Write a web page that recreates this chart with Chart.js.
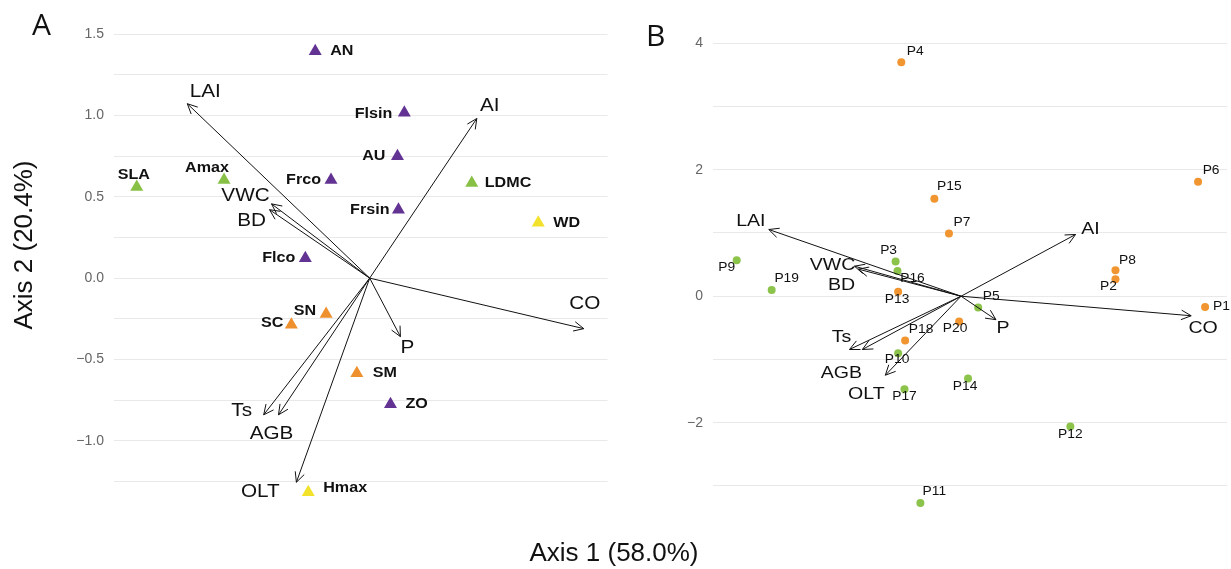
<!DOCTYPE html>
<html>
<head>
<meta charset="utf-8">
<script src="https://cdn.jsdelivr.net/npm/chart.js@4"></script>
<style>
  body { margin: 0; background: #fff; width: 1231px; height: 569px; position: relative; overflow: hidden;
         font-family: "Liberation Sans", Arial, sans-serif; }
  .panel { position: absolute; top: 0; height: 569px; }
  #wrapA { left: 0; width: 615px; }
  #wrapB { left: 615px; width: 616px; }
  .txt { position: absolute; color: #111; white-space: nowrap; line-height: 1; }
</style>
</head>
<body>
<div class="panel" id="wrapA"><canvas id="chartA"></canvas></div>
<div class="panel" id="wrapB"><canvas id="chartB"></canvas></div>
<div class="txt" style="left:32px;top:9px;font-size:30px;font-family:'Open Sans',sans-serif;">A</div>
<div class="txt" style="left:646px;top:20px;font-size:30px;font-family:'Open Sans',sans-serif;">B</div>
<div class="txt" style="left:23px;top:245px;font-size:26px;transform:translate(-50%,-50%) rotate(-90deg);">Axis 2 (20.4%)</div>
<div class="txt" style="left:614px;top:552px;font-size:26px;transform:translate(-50%,-50%);">Axis 1 (58.0%)</div>
<script>
// panel A: traits (triangles)
const traitNames = ['AN', 'Flsin', 'AU', 'Frco', 'Frsin', 'LDMC', 'WD', 'SLA', 'Amax', 'Flco', 'SC', 'SN', 'SM', 'ZO', 'Hmax'];
const traitX = [-0.335, 0.213, 0.171, -0.238, 0.177, 0.628, 1.037, -1.433, -0.896, -0.396, -0.482, -0.268, -0.079, 0.128, -0.378];
const traitY = [1.396, 1.018, 0.750, 0.604, 0.420, 0.585, 0.341, 0.561, 0.604, 0.122, -0.287, -0.220, -0.585, -0.776, -1.317];
const traitGroup = [1, 1, 1, 1, 1, 2, 4, 2, 2, 1, 3, 3, 3, 1, 4];

// environmental vectors
const envNames = ['LAI', 'AI', 'VWC', 'BD', 'CO', 'P', 'Ts', 'AGB', 'OLT'];
const envAX = [-1.122, 0.659, -0.604, -0.616, 1.317, 0.189, -0.652, -0.561, -0.451];
const envAY = [1.073, 0.982, 0.457, 0.421, -0.311, -0.360, -0.841, -0.841, -1.256];
const envBX = [-3.025, 1.802, -1.677, -1.614, 3.621, 0.549, -1.755, -1.552, -1.191];
const envBY = [1.055, 0.976, 0.475, 0.428, -0.309, -0.371, -0.842, -0.842, -1.249];

// panel B: plots
const plotNames = ['P1', 'P2', 'P3', 'P4', 'P5', 'P6', 'P7', 'P8', 'P9', 'P10',
                   'P11', 'P12', 'P13', 'P14', 'P15', 'P16', 'P17', 'P18', 'P19', 'P20'];
const plotX = [3.84, 2.43, -1.03, -0.94, 0.27, 3.73, -0.19, 2.43, -3.53, -0.99,
               -0.64, 1.72, -0.99, 0.11, -0.42, -1.00, -0.89, -0.88, -2.98, -0.03];
const plotY = [-0.17, 0.27, 0.55, 3.70, -0.18, 1.81, 0.99, 0.41, 0.57, -0.90,
               -3.27, -2.06, 0.07, -1.30, 1.54, 0.40, -1.47, -0.70, 0.10, -0.40];
const plotGroup = [1, 1, 2, 1, 2, 1, 1, 1, 2, 2, 2, 2, 1, 2, 1, 2, 2, 1, 2, 1];

// tick labels
const ticksA = ['\u22121.0', '\u22120.5', '0.0', '0.5', '1.0', '1.5'];
const ticksB = ['\u22122', '0', '2', '4'];

const FONT = '"Liberation Sans", Arial, sans-serif';
Chart.defaults.font.family = FONT;

const traitColors = { 1: '#633394', 2: '#88c046', 3: '#ef902e', 4: '#f3e22b' };
const plotColors = { 1: '#f0952f', 2: '#8cc34a' };

// label placement: [dx, dy, align]
const traitLabelPos = {
  AN: [15, 0, 'left'], Flsin: [-12, 1, 'right'], AU: [-12, 0, 'right'], Frco: [-10, 0, 'right'],
  Frsin: [-9, 0, 'right'], LDMC: [13, 0, 'left'], WD: [15, 0, 'left'], SLA: [-3, -12, 'center'],
  Amax: [-17, -12, 'center'], Flco: [-10, 0, 'right'], SC: [-8, -2, 'right'], SN: [-10, -3, 'right'],
  SM: [16, 0, 'left'], ZO: [15, 0, 'left'], Hmax: [15, -4, 'left']
};
const envLabelPosA = {
  LAI: [18, -12], AI: [13, -12], VWC: [-26, -8], BD: [-18, 11], CO: [1, -25],
  P: [7, 11], Ts: [-22, -4], AGB: [-7, 19], OLT: [-36, 10]
};
const envLabelPosB = {
  LAI: [-18, -8], AI: [15, -5], VWC: [-22, -1], BD: [-17, 16], CO: [12, 13],
  P: [7, 9], Ts: [-8, -12], AGB: [-21, 24], OLT: [-19, 19]
};
const plotLabelPos = {
  P1: [8, 0, 'left'], P2: [-7, 8], P3: [-7, -11], P4: [14, -11], P5: [13, -11], P6: [13, -11],
  P7: [13, -11], P8: [12, -10], P9: [-10, 8], P10: [-1, 7], P11: [14, -11], P12: [0, 8],
  P13: [-1, 8], P14: [-3, 8], P15: [15, -12], P16: [15, 8], P17: [0, 8], P18: [16, -11],
  P19: [15, -11], P20: [-4, 7]
};

function arrowDatasets(xs, ys) {
  return envNames.map((n, i) => ({
    label: n,
    data: [{ x: 0, y: 0 }, { x: xs[i], y: ys[i] }],
    showLine: true,
    borderColor: '#111',
    borderWidth: 1,
    pointRadius: 0,
    order: 0,
    isArrow: true
  }));
}

// text slightly wider than tall, as in the source figure
function wideText(ctx, s, x, y, sx) {
  ctx.save();
  ctx.translate(x, y);
  ctx.scale(sx, 1);
  ctx.fillText(s, 0, 0);
  ctx.restore();
}

// arrowheads + text labels
function biplotPlugin(envPos, envFont, pointNames, pointPos, pointFont) {
  return {
    id: 'biplot',
    afterDatasetsDraw(chart) {
      const ctx = chart.ctx;
      const xs = chart.scales.x, ys = chart.scales.y;
      ctx.save();
      ctx.textBaseline = 'middle';
      chart.data.datasets.forEach(ds => {
        if (!ds.isArrow) return;
        const o = ds.data[0], t = ds.data[1];
        const ox = xs.getPixelForValue(o.x), oy = ys.getPixelForValue(o.y);
        const tx = xs.getPixelForValue(t.x), ty = ys.getPixelForValue(t.y);
        const ang = Math.atan2(ty - oy, tx - ox);
        const len = 11, spread = Math.PI / 7;
        ctx.strokeStyle = '#111';
        ctx.lineWidth = 1;
        ctx.beginPath();
        ctx.moveTo(tx - len * Math.cos(ang - spread), ty - len * Math.sin(ang - spread));
        ctx.lineTo(tx, ty);
        ctx.lineTo(tx - len * Math.cos(ang + spread), ty - len * Math.sin(ang + spread));
        ctx.stroke();
        const p = envPos[ds.label];
        ctx.fillStyle = '#111';
        ctx.font = envFont;
        ctx.textAlign = 'center';
        wideText(ctx, ds.label, tx + p[0], ty + p[1], 1.15);
      });
      const pts = chart.data.datasets.find(d => d.isPoints);
      ctx.font = pointFont;
      ctx.fillStyle = '#111';
      pts.data.forEach((d, i) => {
        const name = pointNames[i];
        const p = pointPos[name];
        const px = xs.getPixelForValue(d.x), py = ys.getPixelForValue(d.y);
        ctx.textAlign = p[2] || 'center';
        wideText(ctx, name, px + p[0], py + p[1], 1.15);
      });
      ctx.restore();
    }
  };
}

function makeOptions(cfg) {
  return {
    responsive: true,
    maintainAspectRatio: false,
    animation: false,
    layout: { padding: { left: 0, right: cfg.padRight, top: 14, bottom: 57 } },
    plugins: { legend: { display: false }, tooltip: { enabled: false } },
    scales: {
      x: { type: 'linear', min: cfg.xMin, max: cfg.xMax, display: false },
      y: {
        type: 'linear', min: cfg.yMin, max: cfg.yMax,
        afterBuildTicks: s => { s.ticks = cfg.grid.map(v => ({ value: v })); },
        afterFit: s => { s.width = cfg.axisWidth; },
        border: { display: false },
        grid: { color: '#e9e9e9', lineWidth: 1, drawTicks: false },
        ticks: {
          padding: 10, color: '#666', font: { size: 14 },
          callback: v => {
            const k = cfg.labelAt.indexOf(v);
            return k >= 0 ? cfg.labels[k] : '';
          }
        }
      }
    }
  };
}

const gridA = [], gridB = [];
for (let k = -5; k <= 6; k++) gridA.push(k * 0.25);
for (let k = -3; k <= 4; k++) gridB.push(k);

// panel A
new Chart(document.getElementById('chartA'), {
  type: 'scatter',
  data: {
    datasets: [
      ...arrowDatasets(envAX, envAY),
      {
        label: 'traits',
        isPoints: true,
        data: traitNames.map((n, i) => ({ x: traitX[i], y: traitY[i] })),
        pointStyle: 'triangle',
        pointRadius: 7.5,
        borderWidth: 0,
        backgroundColor: traitGroup.map(g => traitColors[g]),
        order: 1
      }
    ]
  },
  options: makeOptions({
    xMin: -1.573, xMax: 1.463, yMin: -1.439, yMax: 1.598, padRight: 3, axisWidth: 114,
    grid: gridA, labelAt: [-1, -0.5, 0, 0.5, 1, 1.5], labels: ticksA
  }),
  plugins: [biplotPlugin(envLabelPosA, '18px ' + FONT, traitNames, traitLabelPos, 'bold 14px ' + FONT)]
});

// panel B
new Chart(document.getElementById('chartB'), {
  type: 'scatter',
  data: {
    datasets: [
      ...arrowDatasets(envBX, envBY),
      {
        label: 'plots',
        isPoints: true,
        data: plotNames.map((n, i) => ({ x: plotX[i], y: plotY[i] })),
        pointStyle: 'circle',
        pointRadius: 4,
        borderWidth: 0,
        backgroundColor: plotGroup.map(g => plotColors[g]),
        order: 1
      }
    ]
  },
  options: makeOptions({
    xMin: -3.903, xMax: 4.185, yMin: -3.412, yMax: 4.393, padRight: 2, axisWidth: 98,
    grid: gridB, labelAt: [-2, 0, 2, 4], labels: ticksB
  }),
  plugins: [biplotPlugin(envLabelPosB, '17px ' + FONT, plotNames, plotLabelPos, '12px ' + FONT)]
});
</script>
</body>
</html>
